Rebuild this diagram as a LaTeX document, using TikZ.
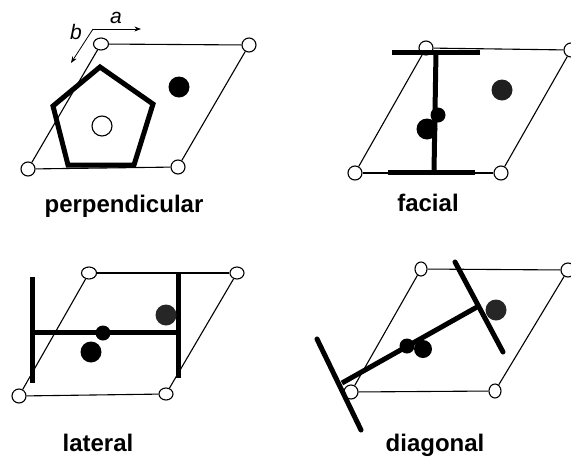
\documentclass[tikz,border=0pt]{standalone}
\usepackage{fontspec}
\setmainfont{Liberation Sans}
\usetikzlibrary{arrows.meta,shapes.geometric}

\begin{document}
\begin{tikzpicture}[>=Stealth, x=1pt, y=-1pt,
	   site/.style={draw, ellipse, fill=white, line width=1.1pt, inner sep=0pt, minimum width=14pt, minimum height=14pt},
	   atom/.style={circle, fill=black, inner sep=0pt, minimum size=21pt},
	   small/.style={atom, minimum size=15pt},
	   cell/.style={line width=1.1pt},
	   ring/.style={line width=5pt, line join=miter},
	   title/.style={font=\bfseries\fontsize{24}{26}\selectfont},
	   axis/.style={->, line width=.8pt},
	   axlab/.style={font=\itshape\fontsize{21}{23}\selectfont}]
	  \useasboundingbox (0,0) rectangle (571,456);
	  \fill[white] (0,0) rectangle (571,456);
	  % perpendicular
	  \node[site, minimum width=15pt, minimum height=12pt] (pa) at (101,44) {};
	  \node[site] (pb) at (249,45) {};
	  \node[site] (pc) at (178,167) {};
	  \node[site] (pd) at (28,169) {};
	  \draw[cell] (pa)--(pb); \draw[cell] (pb)--(pc); \draw[cell] (pc)--(pd); \draw[cell] (pd)--(pa);
	  \draw[ring] (100,67)--(153,104)--(134,165)--(68,165)--(53,106)--cycle;
	  \node[site, minimum width=20pt, minimum height=20pt] (pm) at (102,126) {};
	  \node[atom] (pn) at (179,87) {};
	  \coordinate (ax) at (93,29);
	  \coordinate (axa) at (141,29);
	  \coordinate (axb) at (71,63);
	  \draw[axis] (ax)--(axa); \draw[axis] (ax)--(axb);
	  \node[axlab] (la) at (116,18) {a};
	  \node[axlab] (lb) at (76,32) {b};
	  \node[title] (tp) at (124,206) {perpendicular};
	  % facial
	  \node[site] (fa) at (426,48) {};
	  \node[site] (fb) at (571,50) {};
	  \node[site] (fc) at (501,173) {};
	  \node[site] (fd) at (355,173) {};
	  \draw[cell] (fa)--(fb); \draw[cell] (fb)--(fc); \draw[cell] (fc)--(fd); \draw[cell] (fd)--(fa);
	  \coordinate (f1) at (392,52); \coordinate (f2) at (480,52);
	  \coordinate (f3) at (388,172); \coordinate (f4) at (475,172);
	  \coordinate (f5) at (436,52); \coordinate (f6) at (434,172);
	  \draw[ring] (f1)--(f2); \draw[ring] (f3)--(f4); \draw[ring] (f5)--(f6);
	  \node[small] (fm) at (438,115) {};
	  \node[atom] (fn) at (427,129) {};
	  \node[atom, fill=black!88] (fo) at (502,90) {};
	  \node[title] (tf) at (428,203) {facial};
	  % lateral
	  \node[site, minimum width=15pt, minimum height=12pt] (la1) at (89,273) {};
	  \node[site, minimum height=12pt] (lb1) at (237,273) {};
	  \node[site, minimum height=12pt] (lc1) at (166,394) {};
	  \node[site] (ld1) at (19,396) {};
	  \draw[cell] (la1)--(lb1); \draw[cell] (lb1)--(lc1); \draw[cell] (lc1)--(ld1); \draw[cell] (ld1)--(la1);
	  \coordinate (l1) at (32,277); \coordinate (l2) at (32,383);
	  \coordinate (l3) at (178,274); \coordinate (l4) at (178,378);
	  \coordinate (l5) at (32,332); \coordinate (l6) at (178,332);
	  \draw[ring] (l1)--(l2); \draw[ring] (l3)--(l4); \draw[ring] (l5)--(l6);
	  \node[small] (lm) at (103,333) {};
	  \node[atom] (ln) at (91,352) {};
	  \node[atom, fill=black!85] (lo) at (166,315) {};
	  \node[title] (tl) at (98,443) {lateral};
	  % diagonal
	  \node[site, minimum width=12pt] (da) at (421,269) {};
	  \node[site] (db) at (568,270) {};
	  \node[site, minimum width=12pt] (dc) at (495,391) {};
	  \node[site] (dd) at (351,392) {};
	  \draw[cell] (da)--(db); \draw[cell] (db)--(dc); \draw[cell] (dc)--(dd); \draw[cell] (dd)--(da);
	  \coordinate (d1) at (317,339); \coordinate (d2) at (361,430);
	  \coordinate (d3) at (455,262); \coordinate (d4) at (503,352);
	  \coordinate (d5) at (342,383); \coordinate (d6) at (477,307);
	  \draw[ring, line cap=round] (d1)--(d2); \draw[ring, line cap=round] (d3)--(d4); \draw[ring] (d5)--(d6);
	  \node[small] (dm) at (407,346) {};
	  \node[atom, minimum size=18pt] (dn) at (423,349) {};
	  \node[atom, fill=black!85] (do) at (496,310) {};
	  \node[title] (td) at (435,445) {diagonal};
	\end{tikzpicture}
\end{document}
